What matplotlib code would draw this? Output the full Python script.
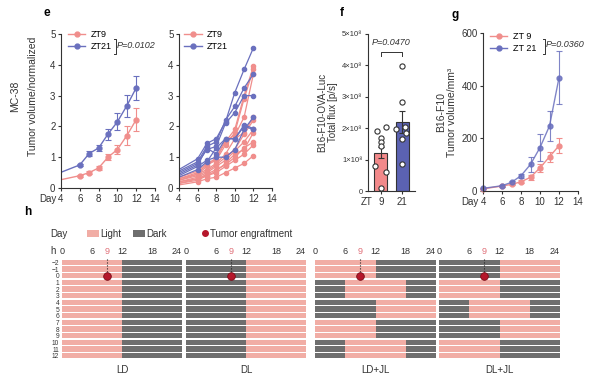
import matplotlib
matplotlib.use('Agg')
import matplotlib.pyplot as plt
from matplotlib.lines import Line2D
from matplotlib.patches import Rectangle

plt.rcParams['font.family'] = ['Liberation Sans', 'DejaVu Sans']

# ---- data ----
days_e = [4, 6, 7, 8, 9, 10, 11, 12]
zt9_mean = [0.27, 0.40, 0.50, 0.65, 1.00, 1.25, 1.70, 2.22]
zt9_sem = [0, 0.03, 0.04, 0.05, 0.09, 0.13, 0.30, 0.38]
zt21_mean = [0.51, 0.75, 1.12, 1.30, 1.75, 2.15, 2.67, 3.25]
zt21_sem = [0, 0.04, 0.08, 0.09, 0.18, 0.28, 0.35, 0.40]

# individual mice (e, right)
zt9_mice = [
    [0.35, 0.55, 0.80, 0.95, 1.50, 1.90, 3.00, 3.95],
    [0.30, 0.50, 0.75, 0.90, 1.40, 1.80, 2.90, 3.85],
    [0.30, 0.45, 0.70, 1.00, 1.55, 1.70, 2.30, 3.70],
    [0.25, 0.45, 0.60, 0.80, 1.10, 1.60, 1.80, 2.30],
    [0.25, 0.40, 0.55, 0.75, 1.00, 1.25, 1.75, 2.20],
    [0.20, 0.35, 0.50, 0.70, 0.90, 1.20, 1.50, 1.90],
    [0.20, 0.30, 0.45, 0.60, 0.75, 1.00, 1.30, 1.50],
    [0.15, 0.25, 0.40, 0.50, 0.70, 0.90, 1.10, 1.40],
    [0.10, 0.20, 0.30, 0.35, 0.50, 0.65, 0.80, 1.05],
    [0.15, 0.30, 0.40, 0.55, 0.80, 1.10, 1.25, 1.80],
]
zt21_mice = [
    [0.60, 0.95, 1.45, 1.60, 2.15, 3.10, 3.85, 4.55],
    [0.55, 0.85, 1.35, 1.50, 2.20, 2.65, 3.25, 3.70],
    [0.50, 0.80, 1.25, 1.35, 2.10, 2.45, 3.00, 3.00],
    [0.45, 0.75, 1.30, 1.10, 1.60, 1.60, 2.05, 1.93],
    [0.40, 0.70, 0.90, 1.00, 1.00, 1.25, 1.90, 2.30],
    [0.35, 0.60, 0.85, 1.30, 1.60, 1.60, 2.00, 1.90],
]

# f: total flux
f_groups = ['9', '21']
f_mean = [1.22e8, 2.20e8]
f_sem = [0.17e8, 0.36e8]
f_zt9_pts = [1.92e8, 2.05e8, 1.70e8, 1.57e8, 1.43e8, 0.80e8, 0.62e8, 0.08e8]
f_zt21_pts = [3.99e8, 2.83e8, 1.97e8, 2.05e8, 1.86e8, 1.67e8, 0.86e8]
f_zt9_jit = [-0.2, 0.22, 0, 0, 0, -0.25, 0.22, 0]
f_zt21_jit = [0, 0, -0.3, 0.15, 0.2, 0, 0]

# g: B16-F10
days_g = [4, 6, 7, 8, 9, 10, 11, 12]
g_zt9_mean = [8, 19, 25, 35, 52, 88, 130, 172]
g_zt9_sem = [2, 3, 4, 6, 10, 15, 20, 28]
g_zt21_mean = [10, 20, 33, 58, 101, 165, 247, 430]
g_zt21_sem = [2, 4, 5, 8, 30, 50, 58, 100]

# h: light onset hour per day (light lasts 12 h)
h_days = list(range(-2, 13))
onset_ld = [0] * 15
onset_dl = [12] * 15
onset_ldjl = [0, 0, 0, 6, 6, 6, 12, 12, 12, 0, 0, 0, 6, 6, 6]
onset_dljl = [12, 12, 12, 0, 0, 0, 6, 6, 6, 12, 12, 12, 0, 0, 0]
h_names = ['LD', 'DL', 'LD+JL', 'DL+JL']
h_hours = [0, 6, 9, 12, 18, 24]

PINK = '#F08E8C'
BLUE = '#6A70BE'
BAR_PINK = '#F2898A'
BAR_BLUE = '#5B62B2'
LIGHT = '#F1ADA5'
DARK = '#6E6E6E'
RED = '#B5172B'
AX = '#333333'

fig = plt.figure(figsize=(6, 3.8), dpi=100)
W, H = 600, 380

ov = fig.add_axes([0, 0, 1, 1])
ov.set_xlim(0, W)
ov.set_ylim(H, 0)
ov.axis('off')


def px_axes(x0, y0, x1, y1):
    return fig.add_axes([x0 / W, 1 - y1 / H, (x1 - x0) / W, (y1 - y0) / H])


def style(ax, size=7):
    for s in ['top', 'right']:
        ax.spines[s].set_visible(False)
    for s in ['left', 'bottom']:
        ax.spines[s].set_linewidth(0.8)
        ax.spines[s].set_color(AX)
    ax.tick_params(length=2.5, width=0.8, labelsize=size, pad=1.5, colors=AX)


def bracket(ax, x, y0, y1, label):
    ax.plot([x - 0.02, x, x, x - 0.02], [y0, y0, y1, y1], color=AX, lw=0.7,
            transform=ax.transAxes, clip_on=False)
    ax.text(x + 0.015, (y0 + y1) / 2 + 0.01, label, style='italic', fontsize=6.5,
            va='center', ha='left', transform=ax.transAxes, color=AX)


def handles(labels):
    return [Line2D([], [], color=c, marker='o', ms=3.5, lw=1) for c in (PINK, BLUE)], labels


def legend(ax, labels, x, y):
    hh, ll = handles(labels)
    ax.legend(hh, ll, loc='upper left', bbox_to_anchor=(x, y), frameon=False,
              fontsize=6.5, handlelength=1.9, labelspacing=0.3, handletextpad=0.6,
              borderaxespad=0.2)


# ---- e left ----
ax = px_axes(61, 34, 155, 188)
style(ax)
for m, s, c in [(zt9_mean, zt9_sem, PINK), (zt21_mean, zt21_sem, BLUE)]:
    ax.plot(days_e, m, color=c, lw=1)
    ax.errorbar(days_e[1:], m[1:], yerr=s[1:], fmt='o', color=c, ms=3.5,
                capsize=2, elinewidth=0.8, capthick=0.8)
ax.set_xlim(4, 14)
ax.set_ylim(0, 5)
ax.set_xticks(range(4, 15, 2))
ax.set_yticks(range(0, 6))
ax.annotate('Day', xy=(4, 0), xycoords=('data', 'axes fraction'), xytext=(-3, -4),
            textcoords='offset points', ha='right', va='top', fontsize=7, color=AX)
legend(ax, ['ZT9', 'ZT21'], 0.02, 1.06)
bracket(ax, 0.58, 0.87, 0.965, 'P=0.0102')

# ---- e right ----
ax = px_axes(179, 34, 272, 188)
style(ax)
for mice, c in [(zt9_mice, PINK), (zt21_mice, BLUE)]:
    for m in mice:
        ax.plot(days_e, m, color=c, lw=0.9, marker='o', ms=3, markevery=range(1, 8))
ax.set_xlim(4, 14)
ax.set_ylim(0, 5)
ax.set_xticks(range(4, 15, 2))
ax.set_yticks(range(0, 6))
legend(ax, ['ZT9', 'ZT21'], 0.0, 1.06)

# ---- f ----
ax = px_axes(368, 34, 415, 191)
style(ax, 5.5)
ax.bar([0, 1], f_mean, width=0.6, color=[BAR_PINK, BAR_BLUE], edgecolor=AX, lw=0.8,
       yerr=f_sem, capsize=2.5, error_kw=dict(elinewidth=0.8, capthick=0.8, ecolor=AX))
for i, (pts, jit) in enumerate([(f_zt9_pts, f_zt9_jit), (f_zt21_pts, f_zt21_jit)]):
    ax.scatter([i + j for j in jit], pts, s=14, facecolor='white', edgecolor=AX,
               lw=0.8, zorder=3, clip_on=False)
ax.set_xlim(-0.6, 1.6)
ax.set_ylim(0, 5e8)
ax.set_xticks([0, 1])
ax.set_xticklabels(f_groups, fontsize=7)
ax.set_yticks([i * 1e8 for i in range(6)])
ax.set_yticklabels(['0'] + ['%d×10⁸' % i for i in range(1, 6)])
ax.annotate('ZT', xy=(-0.6, 0), xycoords=('data', 'axes fraction'), xytext=(3, -4),
            textcoords='offset points', ha='right', va='top', fontsize=7, color=AX)
ax.plot([0, 0, 1, 1], [4.3e8, 4.42e8, 4.42e8, 4.3e8], color=AX, lw=0.7)
ax.text(0.5, 4.6e8, 'P=0.0470', style='italic', fontsize=6.5, ha='center',
        va='bottom', color=AX)

# ---- g ----
ax = px_axes(483, 33, 578, 191)
style(ax)
ax.errorbar(days_g, g_zt9_mean, yerr=g_zt9_sem, color=PINK, marker='o', ms=3.5,
            lw=1, capsize=2, elinewidth=0.8, capthick=0.8, clip_on=False)
ax.errorbar(days_g, g_zt21_mean, yerr=g_zt21_sem, color=BLUE, marker='o', ms=3.5,
            lw=1, capsize=2, elinewidth=0.8, capthick=0.8, alpha=0.85, clip_on=False)
ax.set_xlim(4, 14)
ax.set_ylim(0, 600)
ax.set_xticks(range(4, 15, 2))
ax.set_yticks([0, 200, 400, 600])
ax.annotate('Day', xy=(4, 0), xycoords=('data', 'axes fraction'), xytext=(-3, -4),
            textcoords='offset points', ha='right', va='top', fontsize=7, color=AX)
legend(ax, ['ZT 9', 'ZT 21'], 0.02, 1.04)
bracket(ax, 0.65, 0.87, 0.96, 'P=0.0360')

# ---- h ----
h_boxes = [(62, 182), (186, 306), (315, 436), (439, 560)]
for k, (onsets, (x0, x1)) in enumerate(zip([onset_ld, onset_dl, onset_ldjl, onset_dljl], h_boxes)):
    ax = px_axes(x0, 259, x1, 359)
    for d, on in zip(h_days, onsets):
        ax.broken_barh([(0, 24)], (d - 0.42, 0.84), facecolor=DARK)
        ax.broken_barh([(on, 12)], (d - 0.42, 0.84), facecolor=LIGHT)
    ax.set_xlim(0, 24)
    ax.set_ylim(12.5, -2.5)
    for s in ax.spines.values():
        s.set_visible(False)
    ax.xaxis.tick_top()
    ax.set_xticks(h_hours)
    ax.tick_params(axis='x', length=0, labelsize=6.5, pad=2, colors=AX)
    labs = ax.get_xticklabels()
    for t in labs:
        if t.get_text() == '9':
            t.set_color('#E06F78')
    labs[-1].set_ha('right')
    if k == 0:
        ax.set_yticks(h_days)
        ax.tick_params(axis='y', length=0, labelsize=4.8, pad=2, colors=AX)
    else:
        ax.set_yticks([])
    ax.plot([9, 9], [-2.5, 0], ls=':', color='#222222', lw=0.8)
    ax.plot(9, 0, 'o', ms=5.5, color=RED, mec='#7a0d18', mew=0.6)
    ax.set_xlabel(h_names[k], fontsize=7, labelpad=4, color=AX)

# ---- overlay text ----
ov.text(43, 13, 'e', fontsize=8.5, fontweight='bold', ha='left', va='center')
ov.text(340, 13, 'f', fontsize=8.5, fontweight='bold', ha='left', va='center')
ov.text(451, 15, 'g', fontsize=8.5, fontweight='bold', ha='left', va='center')
ov.text(24, 212, 'h', fontsize=8.5, fontweight='bold', ha='left', va='center')

ov.text(15, 96, 'MC-38', rotation=90, fontsize=7.5, ha='center', va='center', color=AX)
ov.text(33, 96, 'Tumor volume/normalized', rotation=90, fontsize=7.5, ha='center',
        va='center', color=AX)
ov.text(322, 112, 'B16-F10-OVA-Luc', rotation=90, fontsize=7, ha='center',
        va='center', color=AX)
ov.text(333, 112, 'Total flux [p/s]', rotation=90, fontsize=7, ha='center',
        va='center', color=AX)
ov.text(441, 112, 'B16-F10', rotation=90, fontsize=7.5, ha='center', va='center', color=AX)
ov.text(452, 112, 'Tumor volume/mm³', rotation=90, fontsize=7.5, ha='center',
        va='center', color=AX)

ov.text(50, 234, 'Day', fontsize=7, ha='left', va='center', color=AX)
ov.text(50, 251, 'h', fontsize=7, ha='left', va='center', color=AX)
ov.add_patch(Rectangle((87, 230), 12, 7, facecolor=LIGHT, edgecolor='none'))
ov.text(100, 234, 'Light', fontsize=7, ha='left', va='center', color=AX)
ov.add_patch(Rectangle((133, 230), 12, 7, facecolor=DARK, edgecolor='none'))
ov.text(146, 234, 'Dark', fontsize=7, ha='left', va='center', color=AX)
ov.plot(205, 233, 'o', ms=4, color=RED)
ov.text(210, 234, 'Tumor engraftment', fontsize=7, ha='left', va='center', color=AX)

fig.savefig('out.png', dpi=100)
